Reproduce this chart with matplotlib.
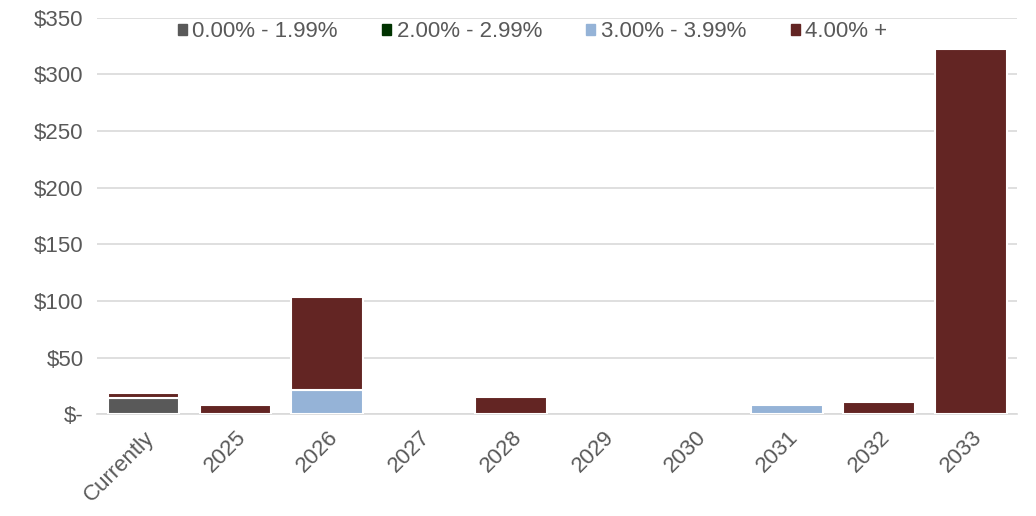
import matplotlib
matplotlib.use("Agg")
import matplotlib.pyplot as plt
import numpy as np

plt.rcParams['font.family'] = ['Liberation Sans', 'DejaVu Sans']

categories = ["Currently", "2025", "2026", "2027", "2028", "2029", "2030", "2031", "2032", "2033"]
series_names = ["0.00% - 1.99%", "2.00% - 2.99%", "3.00% - 3.99%", "4.00% +"]
s_0_199 = [14.5, 0, 0, 0, 0, 0, 0, 0, 0, 0]
s_200_299 = [0, 0, 0, 0, 0, 0, 0, 0, 0, 0]
s_300_399 = [0, 0, 21.8, 0, 0, 0, 0, 8.5, 0, 0]
s_400_plus = [4.3, 8.4, 81.4, 0, 15.0, 0, 0, 0, 10.8, 322]
colors = ["#595959", "#003300", "#95B3D7", "#632523"]
yticks = [0, 50, 100, 150, 200, 250, 300, 350]
ytick_labels = ["$-", "$50", "$100", "$150", "$200", "$250", "$300", "$350"]

fig = plt.figure(figsize=(10.36, 5.16), dpi=100)
ax = fig.add_axes([0.094, 0.197, 0.888, 0.769])

x = np.arange(len(categories))
bottom = np.zeros(len(categories))
handles = []
for name, vals, c in zip(series_names, [s_0_199, s_200_299, s_300_399, s_400_plus], colors):
    vals = np.array(vals, dtype=float)
    nz = vals > 0
    ax.bar(x[nz], vals[nz], 0.78, bottom=bottom[nz], color=c, edgecolor="white",
           linewidth=1.5, zorder=3)
    handles.append(plt.Rectangle((0, 0), 1, 1, color=c))
    bottom += vals

ax.set_xlim(-0.5, len(categories) - 0.5)
ax.set_ylim(0, 350)
ax.set_yticks(yticks)
ax.set_yticklabels(ytick_labels)
ax.set_xticks(x)
ax.set_xticklabels(categories, rotation=45, ha="right", rotation_mode="anchor")
ax.tick_params(axis="both", length=0, labelsize=16, colors="#595959")
ax.tick_params(axis="y", pad=10)
ax.tick_params(axis="x", pad=9)
ax.yaxis.grid(True, color="#D9D9D9", linewidth=1.2, zorder=0)
ax.set_axisbelow(True)
for s in ["top", "right", "left"]:
    ax.spines[s].set_visible(False)
ax.spines["bottom"].set_color("#D9D9D9")
ax.spines["bottom"].set_linewidth(1.2)

leg = fig.legend(handles=handles, labels=series_names, loc="center", bbox_to_anchor=(0.514, 0.938),
                 ncol=4, frameon=False, fontsize=16, handlelength=0.4, handleheight=0.4,
                 handletextpad=0.25, columnspacing=2.0, labelcolor="#595959")

fig.savefig("out.png", dpi=100)
